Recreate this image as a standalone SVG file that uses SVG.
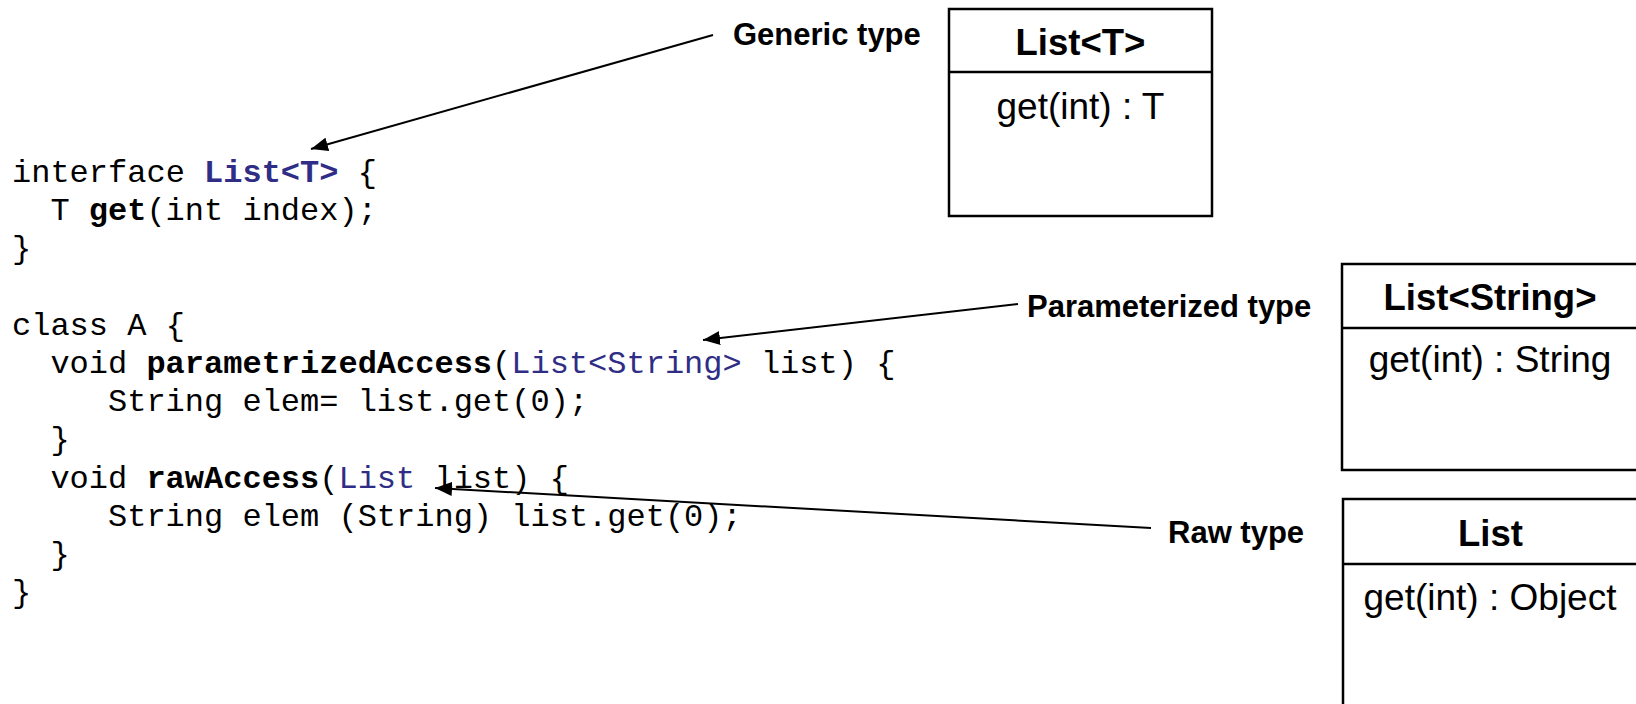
<svg xmlns="http://www.w3.org/2000/svg" width="1636" height="704" viewBox="0 0 1636 704">
  <style>
    .code { font-family: "Liberation Mono", "Courier New", monospace; font-size: 32px; fill: #000; }
    .b { font-weight: bold; }
    .ty { fill: #2F2D85; }
    .label { font-family: "Liberation Sans", Arial, sans-serif; font-size: 31px; font-weight: bold; fill: #000; }
    .title { font-family: "Liberation Sans", Arial, sans-serif; font-size: 36.5px; font-weight: bold; fill: #000; text-anchor: middle; }
    .member { font-family: "Liberation Sans", Arial, sans-serif; font-size: 37px; fill: #000; text-anchor: middle; }
    .box { fill: #fff; stroke: #000; stroke-width: 2.5; }
    .sep { stroke: #000; stroke-width: 2.5; }
    .conn { stroke: #000; stroke-width: 2; fill: none; marker-end: url(#head); }
  </style>
  <defs>
    <marker id="head" markerUnits="userSpaceOnUse" markerWidth="18" markerHeight="14" refX="17" refY="7" orient="auto">
      <path d="M0,0 L17,7 L0,14 Z" fill="#000"/>
    </marker>
  </defs>

  <rect width="1636" height="704" fill="#fff"/>

  <!-- Java source listing -->
  <g id="code" class="code">
    <text x="12" y="182">interface <tspan class="b ty">List&lt;T&gt;</tspan> {</text>
    <text x="50.4" y="220.2">T <tspan class="b">get</tspan>(int index);</text>
    <text x="12" y="258.4">}</text>
    <text x="12" y="334.8">class A {</text>
    <text x="50.4" y="373">void <tspan class="b">parametrizedAccess</tspan>(<tspan class="ty">List&lt;String&gt;</tspan> list) {</text>
    <text x="108" y="411.2">String elem= list.get(0);</text>
    <text x="50.4" y="449.4">}</text>
    <text x="50.4" y="487.6">void <tspan class="b">rawAccess</tspan>(<tspan class="ty">List</tspan> list) {</text>
    <text x="108" y="525.8">String elem (String) list.get(0);</text>
    <text x="50.4" y="564">}</text>
    <text x="12" y="602.2">}</text>
  </g>

  <!-- UML class boxes -->
  <g id="generic-box">
    <rect class="box" x="949" y="9" width="263" height="207"/>
    <line class="sep" x1="949" y1="72" x2="1212" y2="72"/>
    <text class="title" x="1080.5" y="55">List&lt;T&gt;</text>
    <text class="member" x="1080.5" y="119">get(int) : T</text>
  </g>

  <g id="parameterized-box">
    <rect class="box" x="1342" y="264" width="298" height="206"/>
    <line class="sep" x1="1342" y1="328" x2="1640" y2="328"/>
    <text class="title" x="1490" y="310">List&lt;String&gt;</text>
    <text class="member" x="1490" y="372">get(int) : String</text>
  </g>

  <g id="raw-box">
    <rect class="box" x="1343" y="499" width="298" height="240"/>
    <line class="sep" x1="1343" y1="564" x2="1641" y2="564"/>
    <text class="title" x="1490.5" y="546">List</text>
    <text class="member" x="1490" y="610">get(int) : Object</text>
  </g>

  <!-- Callout labels -->
  <g id="label-generic"><text class="label" x="733" y="45">Generic type</text></g>
  <g id="label-parameterized"><text class="label" x="1027" y="317">Parameterized type</text></g>
  <g id="label-raw"><text class="label" x="1168" y="543">Raw type</text></g>

  <!-- Connectors -->
  <g id="connectors">
    <line class="conn" x1="713" y1="35" x2="311" y2="149"/>
    <line class="conn" x1="1018" y1="304" x2="703" y2="340"/>
    <line class="conn" x1="1151" y1="528" x2="435" y2="488"/>
  </g>
</svg>
